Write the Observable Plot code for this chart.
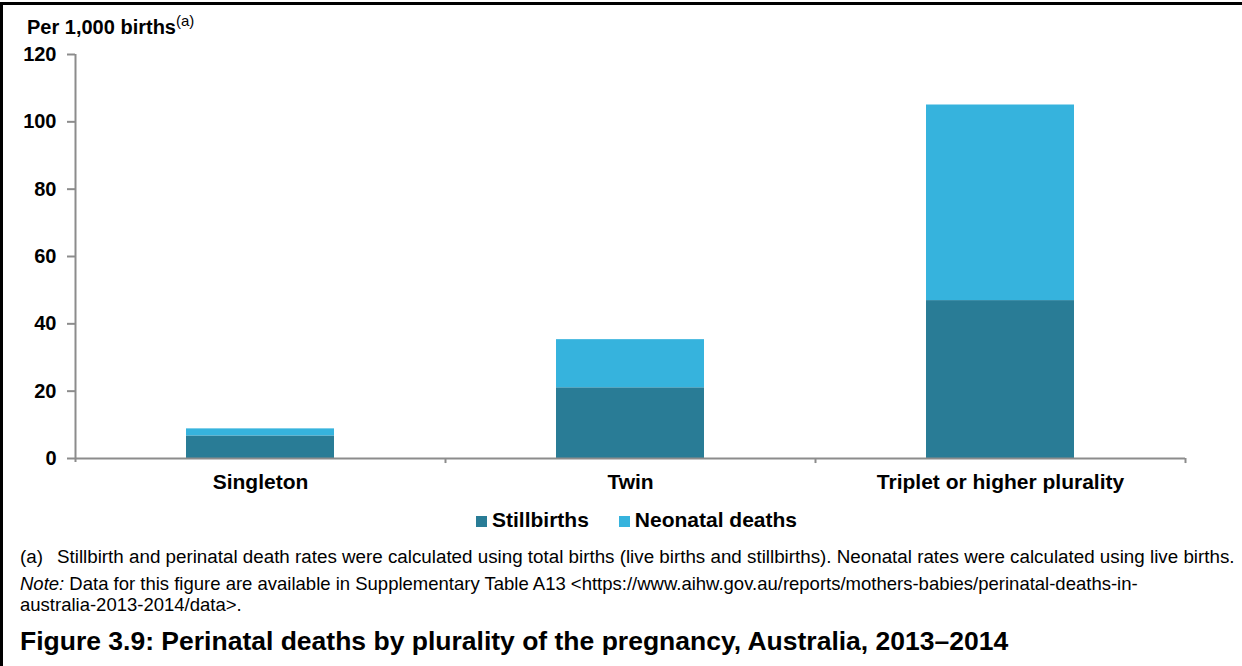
<!DOCTYPE html>
<html>
<head>
<meta charset="utf-8">
<script src="https://cdn.jsdelivr.net/npm/d3@7"></script>
<script src="https://cdn.jsdelivr.net/npm/@observablehq/plot@0.6"></script>
<style>
  body { margin: 0; background: #fff; font-family: "Liberation Sans", Arial, sans-serif; color: #000; }
  .abs { position: absolute; white-space: nowrap; }
</style>
</head>
<body>
<div class="abs" style="left:0;top:2px;width:1242px;height:664px;border-top:3px solid #000;border-left:3px solid #000;box-sizing:border-box;"></div>
<div id="chart" class="abs" style="left:0;top:0;"></div>
<div class="abs" style="left:27px;top:17px;font-size:20px;line-height:20px;font-weight:bold;">Per 1,000 births<span style="font-weight:normal;font-size:15px;position:relative;top:-8px;">(a)</span></div>
<div id="legend" class="abs" style="left:476px;top:509px;font-size:21px;line-height:21px;font-weight:bold;"></div>
<div class="abs" style="left:20px;top:548px;font-size:18.8px;line-height:18.8px;">(a)<span style="display:inline-block;width:14px;"></span>Stillbirth and perinatal death rates were calculated using total births (live births and stillbirths). Neonatal rates were calculated using live births.</div>
<div class="abs" style="left:20px;top:573px;font-size:18.5px;line-height:21px;"><i>Note:</i> Data for this figure are available in Supplementary Table A13 &lt;https://www.aihw.gov.au/reports/mothers-babies/perinatal-deaths-in-<br>australia-2013-2014/data&gt;.</div>
<div class="abs" style="left:20px;top:628px;font-size:26.5px;line-height:26.5px;font-weight:bold;">Figure 3.9: Perinatal deaths by plurality of the pregnancy, Australia, 2013–2014</div>
<script>
const categories = ["Singleton", "Twin", "Triplet or higher plurality"];
const stillbirths = [6.7, 21.0, 46.9];
const neonatalDeaths = [2.1, 14.3, 58.1];
const seriesNames = ["Stillbirths", "Neonatal deaths"];
const seriesColors = ["#297c96", "#36b3dd"];
const yTicks = [0, 20, 40, 60, 80, 100, 120];

const data = categories.flatMap((c, i) => [
  {category: c, series: seriesNames[0], value: stillbirths[i]},
  {category: c, series: seriesNames[1], value: neonatalDeaths[i]}
]);

const W = 1242, H = 503, mL = 75, mR = 57, mT = 54, mB = 45;
const step = (W - mL - mR) / categories.length;
const axisGray = "#8c8c8c";

const chart = Plot.plot({
  width: W, height: H,
  marginLeft: mL, marginRight: mR, marginTop: mT, marginBottom: mB,
  style: {fontFamily: "'Liberation Sans', Arial, sans-serif", background: "transparent", color: "#000"},
  x: {domain: categories, paddingInner: 0.6, paddingOuter: 0.3, label: null},
  y: {domain: [0, 120], label: null},
  color: {domain: seriesNames, range: seriesColors},
  marks: [
    Plot.barY(data, {x: "category", y: "value", fill: "series"}),
    Plot.ruleY([0], {stroke: axisGray, strokeWidth: 2}),
    Plot.ruleX(categories, {y1: 0, y2: -1.5, dx: step / 2, stroke: axisGray, strokeWidth: 2}),
    Plot.ruleX([categories[0]], {y1: -1.2, y2: 120, dx: -step / 2, stroke: axisGray, strokeWidth: 2}),
    Plot.axisY({ticks: yTicks, tickSize: 8, tickPadding: 11, stroke: axisGray, strokeWidth: 2, fill: "#000",
      fontSize: 20, fontWeight: "bold", tickFormat: d => String(d), label: null}),
    Plot.axisX({tickSize: 0, tickPadding: 16, fontSize: 21, fontWeight: "bold", fill: "#000", label: null})
  ]
});
document.getElementById("chart").appendChild(chart);

const legend = document.getElementById("legend");
seriesNames.forEach((name, i) => {
  const item = document.createElement("span");
  item.style.marginRight = i === 0 ? "30px" : "0";
  item.innerHTML = `<span style="display:inline-block;width:11px;height:11px;background:${seriesColors[i]};margin-right:5px;"></span>${name}`;
  legend.appendChild(item);
});
</script>
</body>
</html>
